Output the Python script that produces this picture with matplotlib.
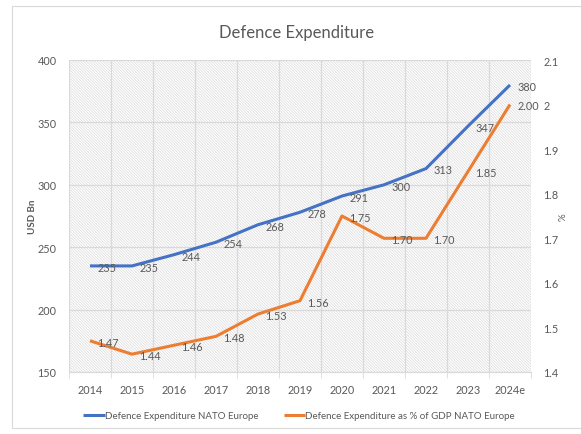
"""Defence Expenditure NATO Europe: spesa in USD Bn (asse sinistro) e % del PIL (asse destro)."""
import matplotlib
matplotlib.use("Agg")
import matplotlib.pyplot as plt
from matplotlib.patches import Rectangle
from matplotlib.ticker import FixedLocator, FuncFormatter

years = ["2014", "2015", "2016", "2017", "2018", "2019", "2020", "2021", "2022", "2023", "2024e"]
spend_usd_bn = [235, 235, 244, 254, 268, 278, 291, 300, 313, 347, 380]
spend_pct_gdp = [1.47, 1.44, 1.46, 1.48, 1.53, 1.56, 1.75, 1.70, 1.70, 1.85, 2.00]

left_ticks = [150, 200, 250, 300, 350, 400]
right_ticks = [1.4, 1.5, 1.6, 1.7, 1.8, 1.9, 2.0, 2.1]

BLUE = "#4472C4"
ORANGE = "#ED7D31"
GRID = "#d9d9d9"
TEXT = "#595959"
FS = 7.8

plt.rcParams["font.family"] = ["Lato", "DejaVu Sans"]
plt.rcParams["hatch.linewidth"] = 0.5
plt.rcParams["hatch.color"] = "#e6e6e6"

fig = plt.figure(figsize=(5.81, 4.35), dpi=100)
fig.patches.append(Rectangle((12 / 581, 6 / 435), 1.0, 422 / 435, transform=fig.transFigure,
                             facecolor="white", edgecolor="#d9d9d9", linewidth=0.8, zorder=-5))

ax = fig.add_axes([69 / 581, 1 - 373 / 435, 462 / 581, 312 / 435])
ax.patch.set_alpha(0)
ax.add_patch(Rectangle((0, 0), 1, 1, transform=ax.transAxes, facecolor="white",
                       edgecolor=GRID, hatch="\\" * 12, linewidth=0, zorder=0))
x = list(range(len(years)))

ax.set_xlim(-0.5, len(years) - 0.5)
ax.set_ylim(150, 400)
ax.set_yticks(left_ticks)
ax.set_xticks(x)
ax.set_xticklabels(years)
ax.xaxis.set_minor_locator(FixedLocator([i - 0.5 for i in range(len(years) + 1)]))
ax.grid(True, axis="y", color=GRID, linewidth=0.9, zorder=1)
ax.grid(True, axis="x", which="minor", color=GRID, linewidth=0.9, zorder=1)
ax.tick_params(axis="x", which="major", length=0, pad=9, labelsize=FS, labelcolor=TEXT)
ax.tick_params(axis="x", which="minor", length=4, color=GRID)
ax.tick_params(axis="y", length=0, pad=9, labelsize=FS, labelcolor=TEXT)
for s in ["left", "right", "top"]:
    ax.spines[s].set_visible(False)
ax.spines["bottom"].set_color(GRID)
ax.set_ylabel("USD Bn", fontsize=7, fontweight="bold", color=TEXT, labelpad=0)

ax2 = ax.twinx()
ax2.set_ylim(1.4, 2.1)
ax2.set_yticks(right_ticks)
ax2.yaxis.set_major_formatter(FuncFormatter(lambda v, _: "2" if abs(v - 2.0) < 1e-9 else f"{v:.1f}"))
ax2.tick_params(axis="y", length=0, pad=9, labelsize=FS, labelcolor=TEXT)
for s in ["left", "right", "top", "bottom"]:
    ax2.spines[s].set_visible(False)
ax2.set_ylabel("%", fontsize=7, color=TEXT, labelpad=0)

l1, = ax.plot(x, spend_usd_bn, color=BLUE, linewidth=2.2, zorder=3,
              solid_capstyle="butt", label="Defence Expenditure NATO Europe")
l2, = ax2.plot(x, spend_pct_gdp, color=ORANGE, linewidth=2.2, zorder=3,
               solid_capstyle="butt", label="Defence Expenditure as % of GDP NATO Europe")

for xi, v in zip(x, spend_usd_bn):
    ax.annotate(f"{v}", (xi, v), xytext=(5.5, -1), textcoords="offset points",
                ha="left", va="center", fontsize=FS, color=TEXT, zorder=4)
for xi, v in zip(x, spend_pct_gdp):
    ax2.annotate(f"{v:.2f}", (xi, v), xytext=(5.5, -1), textcoords="offset points",
                 ha="left", va="center", fontsize=FS, color=TEXT, zorder=4)

fig.text(297 / 581, 1 - 33 / 435, "Defence Expenditure", ha="center", va="center",
         fontsize=12, color=TEXT)

fig.legend(handles=[l1, l2], loc="center", bbox_to_anchor=(299 / 581, 1 - 417 / 435),
           ncol=2, frameon=False, fontsize=7, labelcolor=TEXT, handlelength=2.2,
           handletextpad=0.0, columnspacing=2.6)

fig.savefig("out.png", dpi=100)
